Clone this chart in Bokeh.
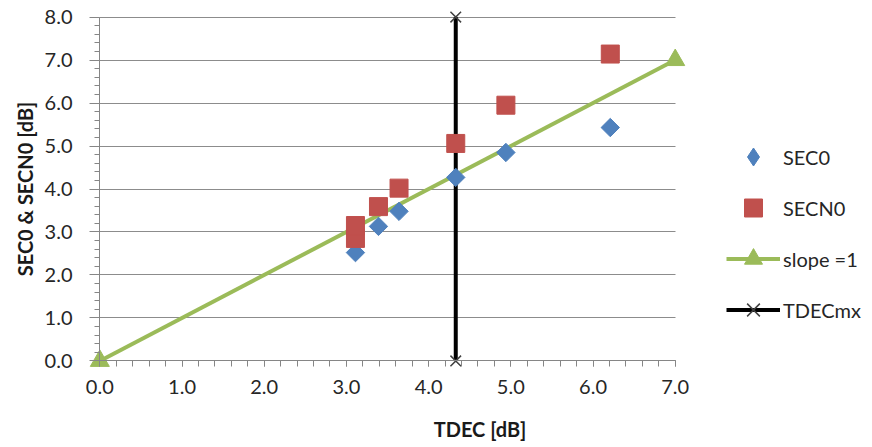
import math
from bokeh.plotting import figure
from bokeh.models import (Range1d, SingleIntervalTicker, NumeralTickFormatter,
                          CustomJSTickFormatter, Legend, LegendItem, LinearAxis)
from bokeh.embed import file_html
from bokeh.resources import INLINE

# ---- data ----
tdec_sec0 = [3.11, 3.39, 3.64, 4.33, 4.94, 6.21]
sec0 = [2.52, 3.13, 3.48, 4.27, 4.85, 5.43]
tdec_secn0 = [3.11, 3.11, 3.39, 3.64, 4.33, 4.94, 6.21]
secn0 = [2.85, 3.15, 3.59, 4.02, 5.06, 5.95, 7.14]
slope_x = [0.0, 7.0]
slope_y = [0.0, 7.0]
tdecmx_x = [4.33, 4.33]
tdecmx_y = [0.0, 8.0]
x_limits = (0.0, 7.0)
y_limits = (0.0, 8.0)

BLUE = "#4F81BD"
RED = "#C0504D"
GREEN = "#9BBB59"
FONT = "Lato"
TXT = "#262626"
AXC = "#868686"

p = figure(width=872, height=447,
           x_range=Range1d(-0.15, 9.40), y_range=Range1d(-0.2, 8.2),
           output_backend="svg", toolbar_location=None,
           min_border_left=87, min_border_right=0,
           min_border_top=8, min_border_bottom=78)
p.outline_line_color = None
p.background_fill_color = "white"
p.border_fill_color = "white"

# lines first, then markers
r_slope_line = p.line(slope_x, slope_y, line_width=4, line_color=GREEN)
r_mx_line = p.line(tdecmx_x, tdecmx_y, line_width=4, line_color="black")
r_sec0 = p.scatter(tdec_sec0, sec0, marker="square", angle=math.pi / 4, size=13,
                   fill_color=BLUE, line_color=BLUE)
r_secn0 = p.scatter(tdec_secn0, secn0, marker="square", size=18,
                    fill_color=RED, line_color=RED)
r_slope_pts = p.scatter(slope_x, slope_y, marker="triangle", size=19,
                        fill_color=GREEN, line_color=GREEN)
r_mx_pts = p.scatter(tdecmx_x, tdecmx_y, marker="x", size=15,
                     line_color="#404040", line_width=1.5)
# legend-only swatch for the diamond series (legend ignores marker angle)
nan = float("nan")
r_sec0_key = p.scatter([nan], [nan], marker="diamond", size=20,
                       fill_color=BLUE, line_color=BLUE)

# label-only axes at the frame edges
for ax, lim in ((p.xaxis[0], x_limits), (p.yaxis[0], y_limits)):
    ax.bounds = lim
    ax.ticker = SingleIntervalTicker(interval=1, num_minor_ticks=0)
    ax.formatter = NumeralTickFormatter(format="0.0")
    ax.axis_line_color = None
    ax.major_tick_line_color = None
    ax.minor_tick_line_color = None
    ax.major_tick_in = 0
    ax.major_tick_out = 0
    ax.minor_tick_in = 0
    ax.minor_tick_out = 0
    ax.major_label_text_font = FONT
    ax.major_label_text_font_size = "20px"
    ax.major_label_text_color = TXT
    ax.axis_label_text_font = FONT
    ax.axis_label_text_font_size = "20px"
    ax.axis_label_text_font_style = "bold"
    ax.axis_label_text_color = "#1a1a1a"
p.xaxis.axis_label = "TDEC [dB]"
p.yaxis.axis_label = "SEC0 & SECN0 [dB]"
p.xaxis.major_label_standoff = 10
p.xaxis.axis_label_standoff = 20
p.yaxis.major_label_standoff = 15
p.yaxis.axis_label_standoff = 5

# axis lines and ticks crossing at the data origin
blank = CustomJSTickFormatter(code="return ''")
xline = LinearAxis(fixed_location=0, bounds=x_limits,
                   ticker=SingleIntervalTicker(interval=1, num_minor_ticks=5),
                   formatter=blank)
yline = LinearAxis(fixed_location=0, bounds=y_limits,
                   ticker=SingleIntervalTicker(interval=1, num_minor_ticks=5),
                   formatter=blank)
for ax in (xline, yline):
    ax.axis_line_color = AXC
    ax.major_tick_line_color = AXC
    ax.minor_tick_line_color = AXC
    ax.major_tick_in = 0
    ax.minor_tick_in = 0
xline.major_tick_out = 6
xline.minor_tick_out = 6
yline.major_tick_out = 10
yline.minor_tick_out = 5
p.add_layout(xline, "below")
p.add_layout(yline, "left")

p.xgrid.visible = False
p.ygrid.ticker = SingleIntervalTicker(interval=1)
p.ygrid.grid_line_color = "#8c8c8c"
p.ygrid.grid_line_width = 1
p.ygrid.cross_bounds = x_limits

legend = Legend(items=[
    LegendItem(label="SEC0", renderers=[r_sec0_key]),
    LegendItem(label="SECN0", renderers=[r_secn0]),
    LegendItem(label="slope =1", renderers=[r_slope_line, r_slope_pts]),
    LegendItem(label="TDECmx", renderers=[r_mx_line, r_mx_pts]),
], location=(639, 37))
legend.glyph_width = 54
legend.glyph_height = 45
legend.label_height = 20
legend.spacing = 6
legend.padding = 5
legend.margin = 0
legend.label_standoff = 3
legend.border_line_color = None
legend.background_fill_alpha = 0
legend.label_text_font = FONT
legend.label_text_font_size = "20px"
legend.label_text_color = TXT
p.add_layout(legend, "center")

open("out.html", "w").write(file_html(p, INLINE))
